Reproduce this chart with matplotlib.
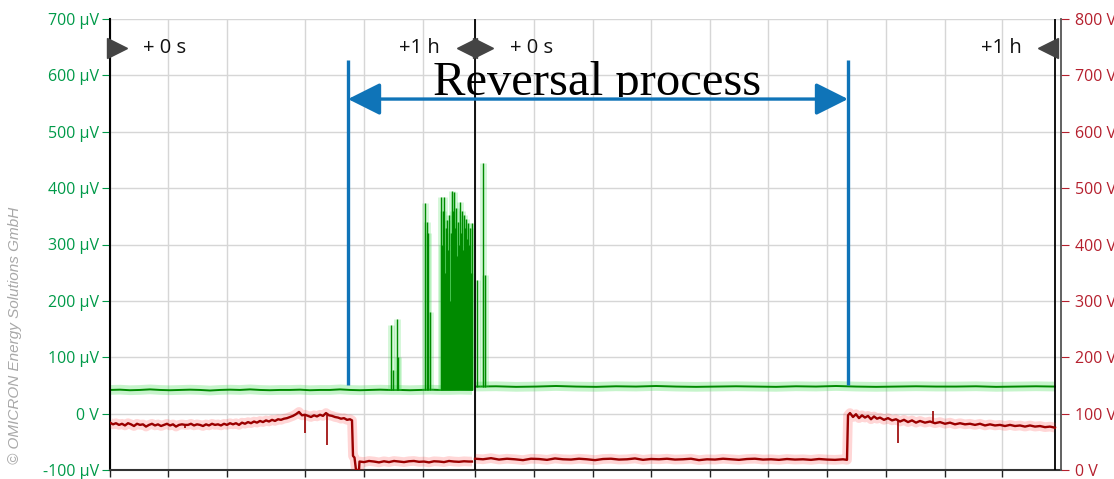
import numpy as np
import matplotlib.pyplot as plt
from matplotlib.transforms import Bbox, TransformedBbox

plt.rcParams['font.family'] = ['Open Sans', 'DejaVu Sans']

# x = pixel column counted from the left axis; two one-hour recordings side by side
grid_x = [0, 58, 117, 195, 254, 313, 365, 424, 483, 541, 600, 658, 717, 776, 835, 892]
panel_ends = [365, 945]

uv_ticks = [-100, 0, 100, 200, 300, 400, 500, 600, 700]
uv_labels = ['-100 µV', '0 V', '100 µV', '200 µV', '300 µV', '400 µV', '500 µV', '600 µV', '700 µV']
v_ticks = [0, 100, 200, 300, 400, 500, 600, 700, 800]
v_labels = ['0 V', '100 V', '200 V', '300 V', '400 V', '500 V', '600 V', '700 V', '800 V']

# PD level (µV), base line
green_left_x = [0, 10, 20, 30, 40, 50, 60, 70, 80, 90, 100, 110, 120, 130, 140, 150, 160, 170,
                180, 190, 200, 210, 220, 230, 240, 250, 260, 270, 280, 290, 300, 310, 320, 330,
                340, 350, 362]
green_left = [42, 42.5, 41.5, 42, 43, 42, 41.5, 42, 42.5, 42, 41, 42, 42.5, 42, 43, 42, 41.5, 42,
              42, 42.5, 41.5, 42, 42, 43, 42, 41.5, 42, 42.5, 42, 42, 41.5, 42, 42.5, 42, 42, 42.5, 42]
green_right_x = [366, 386, 406, 426, 446, 466, 486, 506, 526, 546, 566, 586, 606, 626, 646, 666,
                 686, 706, 726, 746, 766, 786, 806, 826, 846, 866, 886, 906, 926, 945]
green_right = [48, 48.5, 47.5, 48, 49, 48, 47.5, 48.5, 48, 49, 48, 47.5, 48, 48.5, 48, 47.5, 48.5,
               48, 49, 48, 47.5, 48, 48.5, 48, 48, 48.5, 47.5, 48, 48.5, 48]

# PD bursts (µV peaks)
spike_x = [280.7, 283, 286.7, 288, 315, 316.5, 318, 319.5, 331, 332, 333, 334, 335, 336, 337, 338,
           339, 340, 341, 342, 343, 344, 345, 346, 347, 348, 349, 350, 351, 352, 353, 354, 355,
           356, 357, 358, 359, 360, 361, 362, 366.7, 373.3, 375]
spike_uv = [157, 77, 168, 100, 374, 340, 320, 180, 385, 300, 360, 385, 250, 330, 343, 290, 352,
            200, 320, 395, 360, 394, 330, 365, 280, 340, 300, 376, 320, 360, 290, 352, 330, 346,
            310, 338, 300, 330, 250, 338, 237, 445, 246]

# test voltage (V)
red_left_x = list(range(0, 241, 3)) + [242, 243, 244.5, 246, 249, 249.5, 254, 259, 264, 269, 274,
                                       279, 284, 289, 294, 299, 304, 309, 314, 319, 324, 329, 334,
                                       339, 344, 349, 354, 359, 362]
red_left = [84, 81, 83, 80, 82, 79, 83, 81, 78, 82,
            80, 81, 77, 80, 82, 79, 81, 78, 80, 82,
            79, 81, 77, 80, 81, 80, 80, 82, 79, 81,
            80, 78, 81, 79, 82, 80, 81, 79, 82, 80,
            83, 81, 83, 80, 84, 82, 85, 83, 86, 84,
            87, 85, 88, 86, 89, 87, 90, 89, 91, 92,
            94, 96, 99, 103, 97, 98, 96, 94, 97, 95,
            98, 96, 101, 97, 96, 94, 93, 91, 92, 89,
            90,
            88, 25, 22, 0, 0, 15, 14, 16, 15, 13.5, 15.5, 14, 16, 15, 14, 15.5, 16, 14.5,
            15, 13.5, 15.5, 15, 14, 16, 15, 14.5, 15.5, 15, 15]
red_right_x = [365, 373, 381, 389, 397, 405, 413, 421, 429, 437, 445, 453, 461, 469, 477, 485,
               493, 501, 509, 517, 525, 533, 541, 549, 557, 565, 573, 581, 589, 597, 605, 613,
               621, 629, 637, 645, 653, 661, 669, 677, 685, 693, 701, 709, 717, 725, 733, 737,
               738, 740, 743, 746, 749, 752, 755, 758, 761, 764, 767, 770, 774, 778, 782, 786,
               790, 794, 798, 802, 806, 810, 815, 820, 825, 830, 835, 840, 845, 850, 855, 860,
               865, 870, 875, 880, 885, 890, 895, 900, 905, 910, 915, 920, 925, 930, 935, 940, 945]
red_right = [20, 19, 21, 18.5, 20, 19, 17.5, 20, 19.5, 18, 20.5, 19, 18.5, 20, 19, 17.5,
             19.5, 20, 18.5, 19, 20.5, 18, 19.5, 19, 20, 18.5, 19, 20, 17.5, 19, 18.5, 20,
             19, 18, 19.5, 20, 18.5, 19, 18, 19.5, 18.5, 19, 18, 19.5, 18.5, 18, 19, 18,
             97, 101, 94, 99, 92, 97, 93, 96, 90, 95, 91, 93, 89, 92, 88, 90,
             86, 89, 85, 88, 84, 87, 84, 86, 83, 85, 82, 84, 81, 83, 81, 82,
             80, 82, 79, 81, 79, 80, 78, 80, 78, 79, 77, 79, 77, 78, 76, 77, 75]
red_spike_x = [75, 195, 216.7, 788, 823]
red_spike_from = [80, 97, 97, 87, 84]
red_spike_to = [74, 66, 44, 48, 105]

marks = [(7, '>'), (357, '<'), (373, '>'), (938, '<')]
mark_texts = [(33, '+ 0 s', 'left'), (330, '+1 h', 'right'), (400, '+ 0 s', 'left'), (912, '+1 h', 'right')]
reversal_start, reversal_end = 238, 738

green = '#008a00'
green_glow = '#44dd55'
red = '#9a0000'
red_glow = '#ff2020'
blue = '#0f74b8'
label_green = '#009a49'
label_red = '#b5202e'

fig = plt.figure(figsize=(11.14, 4.79), dpi=100)
ax = fig.add_axes([110 / 1114, 9 / 479, 951 / 1114, 451 / 479])
ax.set_xlim(0, 951)
ax.set_ylim(-100, 700)

ax.set_xticks(grid_x)
ax.set_xticklabels([])
ax.set_yticks(uv_ticks)
ax.set_yticklabels(uv_labels)
ax.tick_params(axis='x', length=5, color='#222222', width=1)
ax.tick_params(axis='y', length=6, color=label_green, labelcolor=label_green, labelsize=11.5, pad=2)
ax.grid(True, color='#d6d6d6', lw=1)
ax.set_axisbelow(True)
for s in ['top', 'right']:
    ax.spines[s].set_visible(False)
ax.spines['left'].set_linewidth(1.5)
ax.spines['bottom'].set_linewidth(1.5)
ax.spines['bottom'].set_color('#333333')

for xe in panel_ends:
    ax.axvline(xe, color='black', lw=1.3, zorder=3)

# green PD trace with glow
for xs, ys in [(green_left_x, green_left), (green_right_x, green_right)]:
    ax.plot(xs, ys, color=green_glow, lw=7, alpha=0.3, solid_capstyle='butt')
    ax.plot(xs, ys, color=green, lw=1.4)
spike_base = [42 if x < 365 else 48 for x in spike_x]
ax.vlines(spike_x, spike_base, spike_uv, color=green_glow, lw=5, alpha=0.22)
ax.vlines(spike_x, spike_base, spike_uv, color=green, lw=1.0)

# blue reversal marker
ax.vlines([reversal_start, reversal_end], 51, 627, color=blue, lw=2.4, zorder=4)
ax.annotate('', xy=(reversal_start, 558), xytext=(reversal_end, 558),
            arrowprops=dict(arrowstyle='<|-|>,head_length=1.0,head_width=0.5', mutation_scale=20,
                            color=blue, lw=2.4, shrinkA=0, shrinkB=0), zorder=4)

for x, m in marks:
    ax.plot(x, 648, marker=m, color='#444444', ms=14, clip_on=False, zorder=5)
for x, t, ha in mark_texts:
    ax.text(x, 648, t, ha=ha, va='center', fontsize=14.5, color='#111111')

ax2 = ax.twinx()
ax2.set_ylim(0, 800)
ax2.set_yticks(v_ticks)
ax2.set_yticklabels(v_labels)
ax2.tick_params(axis='y', length=6, color=label_red, labelcolor=label_red, labelsize=11.5, pad=4)
for s in ['top', 'left', 'bottom']:
    ax2.spines[s].set_visible(False)
ax2.spines['right'].set_color('#555555')
ax2.spines['right'].set_linewidth(1.3)

for xs, ys in [(red_left_x, red_left), (red_right_x, red_right)]:
    ax2.plot(xs, ys, color=red_glow, lw=7, alpha=0.18, solid_capstyle='butt')
    ax2.plot(xs, ys, color=red, lw=1.7)
ax2.vlines(red_spike_x, red_spike_from, red_spike_to, color=red, lw=1.2)

t = fig.text(597 / 1114, (479 - 95) / 479, 'Reversal process', ha='center', va='baseline',
             family='Liberation Serif', fontsize=35, color='black', zorder=10)
t.set_clip_box(TransformedBbox(Bbox([[0, (479 - 96.5) / 479], [1, 1]]), fig.transFigure))
t.set_clip_on(True)

fig.text(15 / 1114, (479 - 335) / 479, '© OMICRON Energy Solutions GmbH', rotation=90,
         color='#a8a8a8', style='italic', fontsize=11, ha='center', va='center',
         family='Liberation Sans')

plt.savefig('out.png', dpi=100)
